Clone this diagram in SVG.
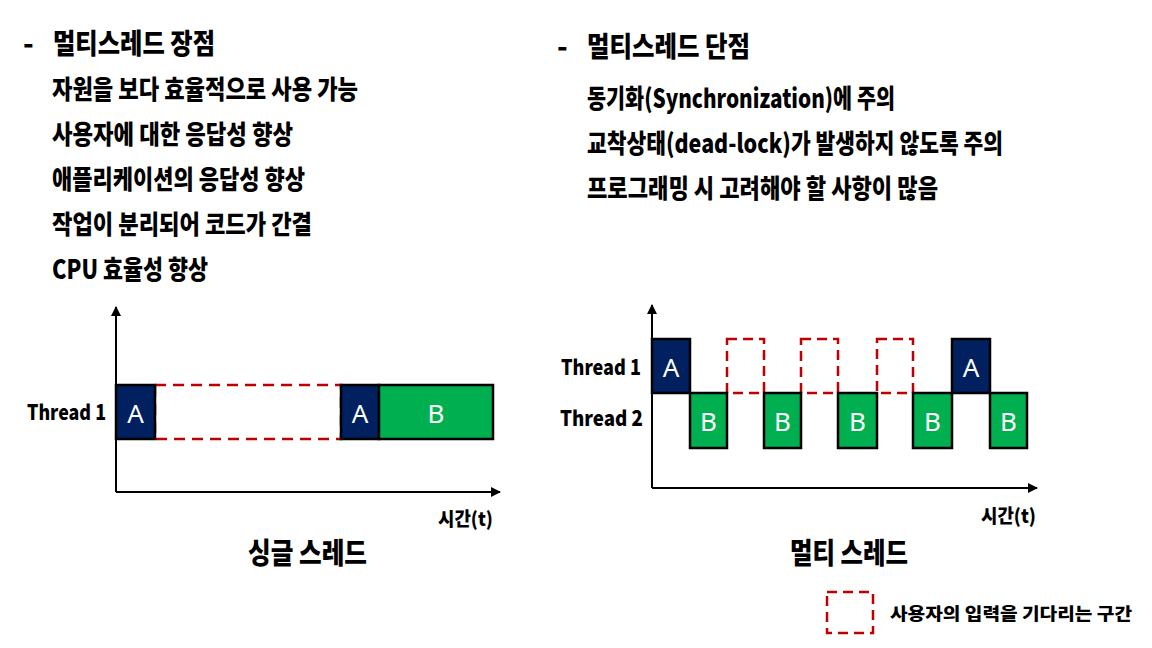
<svg xmlns="http://www.w3.org/2000/svg" width="1152" height="648" viewBox="0 0 1152 648">
<defs>
<style>
.t{font-family:"Noto Sans CJK KR","Noto Sans",sans-serif;font-weight:900;fill:#000;dominant-baseline:central}
.ttl{font-size:28px}
.itm{font-size:26px}
.lbl{font-size:21px}
.box{stroke:#000;stroke-width:2.5}
.na{fill:#002060}
.gr{fill:#00B050}
.dash{fill:none;stroke:#C00000;stroke-width:2.5;stroke-dasharray:11 7}
.dash2{fill:none;stroke:#C00000;stroke-width:2.5;stroke-dasharray:10 6}
.ax{stroke:#000;stroke-width:2;fill:none}
.w{font-family:"Noto Sans","Liberation Sans",sans-serif;font-size:26px;fill:#fff;text-anchor:middle;dominant-baseline:central}
</style>
<marker id="arr" viewBox="0 0 10 10" refX="9" refY="5" markerWidth="5" markerHeight="5" orient="auto" markerUnits="strokeWidth">
<path d="M0,0 L10,5 L0,10 z" fill="#000"/>
</marker>
</defs>
<rect width="1152" height="648" fill="#fff"/>

<g id="pros">
<text class="t ttl" x="23" y="42">-</text>
<text class="t ttl" x="53" y="42" textLength="162" lengthAdjust="spacingAndGlyphs">멀티스레드 장점</text>
<text class="t itm" x="52" y="87" textLength="306" lengthAdjust="spacingAndGlyphs">자원을 보다 효율적으로 사용 가능</text>
<text class="t itm" x="52" y="132" textLength="241" lengthAdjust="spacingAndGlyphs">사용자에 대한 응답성 향상</text>
<text class="t itm" x="52" y="177" textLength="253" lengthAdjust="spacingAndGlyphs">애플리케이션의 응답성 향상</text>
<text class="t itm" x="52" y="222" textLength="260" lengthAdjust="spacingAndGlyphs">작업이 분리되어 코드가 간결</text>
<text class="t itm" x="52" y="267" textLength="156" lengthAdjust="spacingAndGlyphs">CPU 효율성 향상</text>
</g>

<g id="cons">
<text class="t ttl" x="557" y="45">-</text>
<text class="t ttl" x="587" y="45" textLength="163" lengthAdjust="spacingAndGlyphs">멀티스레드 단점</text>
<text class="t itm" x="587" y="96" textLength="308" lengthAdjust="spacingAndGlyphs">동기화(Synchronization)에 주의</text>
<text class="t itm" x="587" y="141" textLength="416" lengthAdjust="spacingAndGlyphs">교착상태(dead-lock)가 발생하지 않도록 주의</text>
<text class="t itm" x="587" y="186" textLength="351" lengthAdjust="spacingAndGlyphs">프로그래밍 시 고려해야 할 사항이 많음</text>
</g>

<g id="connectors">
<path class="ax" d="M116,492 V307" marker-end="url(#arr)"/>
<path class="ax" d="M116,492 H500" marker-end="url(#arr)"/>
<path class="ax" d="M652,488 V305" marker-end="url(#arr)"/>
<path class="ax" d="M652,488 H1037" marker-end="url(#arr)"/>
</g>

<g id="single">
<rect class="dash" x="155" y="385" width="186" height="54"/>
<rect class="box na" x="116" y="385" width="39" height="54"/>
<text class="w" x="135.5" y="413">A</text>
<rect class="box na" x="341" y="385" width="38" height="54"/>
<text class="w" x="360" y="413">A</text>
<rect class="box gr" x="379" y="385" width="114" height="54"/>
<text class="w" x="436" y="413">B</text>
<text class="t lbl" x="27" y="411" textLength="79" lengthAdjust="spacingAndGlyphs">Thread 1</text>
<text class="t" x="438" y="517" font-size="19" textLength="55" lengthAdjust="spacingAndGlyphs">시간(t)</text>
<text class="t" x="248" y="551" font-size="29" textLength="119" lengthAdjust="spacingAndGlyphs">싱글 스레드</text>
</g>

<g id="multi">
<rect class="dash2" x="727" y="339" width="37" height="54"/>
<rect class="dash2" x="801" y="339" width="37" height="54"/>
<rect class="dash2" x="877" y="339" width="36" height="54"/>
<rect class="box na" x="652" y="339" width="38" height="54"/>
<text class="w" x="671" y="367">A</text>
<rect class="box na" x="952" y="339" width="38" height="54"/>
<text class="w" x="971" y="367">A</text>
<rect class="box gr" x="690" y="393" width="37" height="55"/>
<text class="w" x="708.5" y="421">B</text>
<rect class="box gr" x="764" y="393" width="37" height="55"/>
<text class="w" x="782.5" y="421">B</text>
<rect class="box gr" x="838" y="393" width="39" height="55"/>
<text class="w" x="857.5" y="421">B</text>
<rect class="box gr" x="913" y="393" width="39" height="55"/>
<text class="w" x="932.5" y="421">B</text>
<rect class="box gr" x="990" y="393" width="37" height="55"/>
<text class="w" x="1008.5" y="421">B</text>
<text class="t lbl" x="561" y="366" textLength="80" lengthAdjust="spacingAndGlyphs">Thread 1</text>
<text class="t lbl" x="560" y="417" textLength="83" lengthAdjust="spacingAndGlyphs">Thread 2</text>
<text class="t" x="981" y="514" font-size="19" textLength="55" lengthAdjust="spacingAndGlyphs">시간(t)</text>
<text class="t" x="790" y="551" font-size="29" textLength="118" lengthAdjust="spacingAndGlyphs">멀티 스레드</text>
</g>

<g id="legend">
<rect class="dash2" x="827" y="592" width="46" height="41"/>
<text class="t" x="890" y="612" font-size="17" textLength="242" lengthAdjust="spacingAndGlyphs">사용자의 입력을 기다리는 구간</text>
</g>
</svg>
